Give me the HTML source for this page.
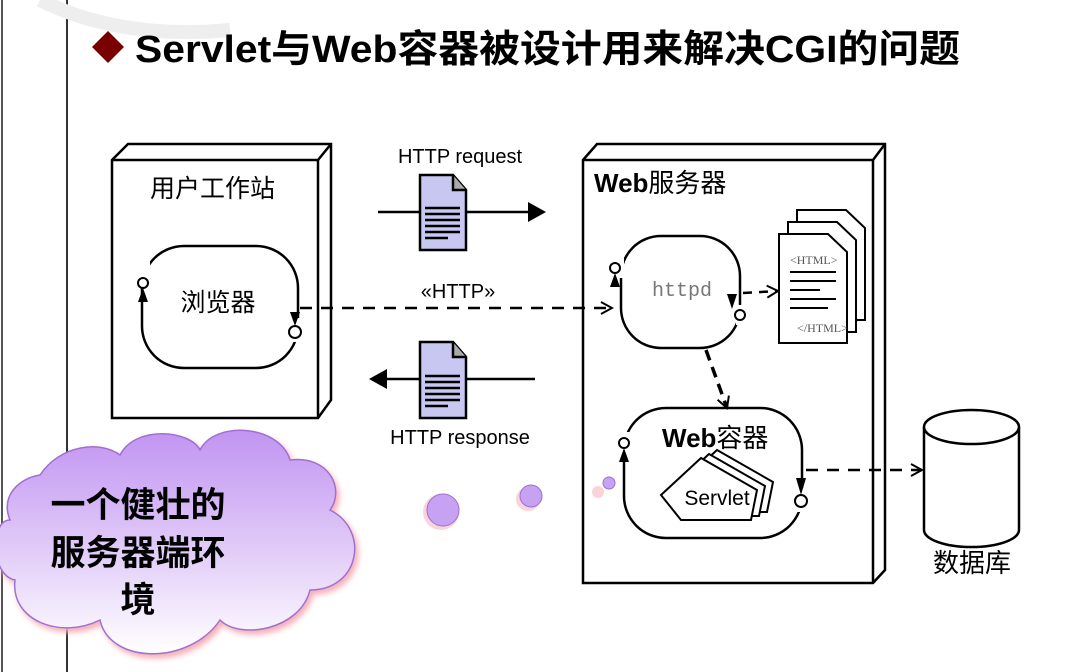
<!DOCTYPE html>
<html><head><meta charset="utf-8"><style>
html,body{margin:0;padding:0;background:#fff;}
svg{display:block}
</style></head><body>
<svg width="1088" height="672" viewBox="0 0 1088 672" xmlns="http://www.w3.org/2000/svg" font-family="Liberation Sans, Noto Sans CJK SC, sans-serif">
<defs>
<linearGradient id="cg" x1="0" y1="0" x2="0" y2="1">
<stop offset="0" stop-color="#c194f2"/><stop offset="0.55" stop-color="#e2cdf8"/><stop offset="1" stop-color="#ffffff"/>
</linearGradient>
<marker id="open" markerWidth="14" markerHeight="14" refX="12" refY="7" orient="auto" markerUnits="userSpaceOnUse"><path d="M1,1 L12,7 L1,13" fill="none" stroke="#000" stroke-width="2"/></marker>
</defs>
<rect width="1088" height="672" fill="#fff"/>
<line x1="2" y1="0" x2="2" y2="672" stroke="#555" stroke-width="2"/>
<line x1="67" y1="0" x2="67" y2="672" stroke="#333" stroke-width="2"/>
<path d="M40,0 Q120,40 230,30" fill="none" stroke="#eee" stroke-width="14"/>
<!-- title -->
<polygon points="108,31 124,47 108,63 92,47" fill="#7a0000"/>
<text x="135" y="62" font-size="38" font-weight="bold" fill="#000" textLength="825" lengthAdjust="spacingAndGlyphs">Servlet与Web容器被设计用来解决CGI的问题</text>

<!-- left node -->
<g fill="none" stroke="#000" stroke-width="2.5">
<polygon points="112,160 128,144 331,144 331,400 318,418 112,418" fill="#fff"/>
<polyline points="112,160 318,160 318,418"/>
<line x1="318" y1="160" x2="331" y2="144"/>
<rect x="142" y="246" width="156" height="122" rx="42"/>
</g>
<text x="150" y="197" font-size="25">用户工作站</text>
<text x="218" y="311" font-size="25" text-anchor="middle">浏览器</text>
<rect x="136" y="260" width="14" height="20" fill="#fff"/>
<rect x="291" y="318" width="10" height="24" fill="#fff"/>
<circle cx="143" cy="283" r="5" fill="#fff" stroke="#000" stroke-width="2"/>
<polygon points="143,288 138,302 148,302" fill="#000"/>
<circle cx="295" cy="332" r="6" fill="#fff" stroke="#000" stroke-width="2"/>
<polygon points="295,326 290,312 300,312" fill="#000"/>
<text x="458" y="298" font-size="20" text-anchor="middle">«HTTP»</text>

<!-- request -->
<text x="460" y="163" font-size="20" text-anchor="middle">HTTP request</text>
<line x1="378" y1="212" x2="530" y2="212" stroke="#000" stroke-width="2.5"/>
<polygon points="528,202 546,212 528,222" fill="#000"/>
<g stroke="#000" stroke-width="2.5">
<path d="M420,175 L453,175 L466,190 L466,250 L420,250 Z" fill="#c7c7f2"/>
<path d="M453,175 L453,190 L466,190" fill="#aaa"/>
</g>
<g stroke="#000" stroke-width="2.5"><line x1="425" y1="208" x2="460" y2="208"/><line x1="425" y1="214" x2="460" y2="214"/><line x1="425" y1="220" x2="460" y2="220"/><line x1="425" y1="226" x2="460" y2="226"/><line x1="425" y1="232" x2="460" y2="232"/><line x1="425" y1="238" x2="448" y2="238"/></g>

<!-- response -->
<line x1="385" y1="379" x2="535" y2="379" stroke="#000" stroke-width="2.5"/>
<polygon points="387,369 369,379 387,389" fill="#000"/>
<g stroke="#000" stroke-width="2.5">
<path d="M420,342 L453,342 L466,357 L466,418 L420,418 Z" fill="#c7c7f2"/>
<path d="M453,342 L453,357 L466,357" fill="#aaa"/>
</g>
<g stroke="#000" stroke-width="2.5"><line x1="425" y1="376" x2="460" y2="376"/><line x1="425" y1="382" x2="460" y2="382"/><line x1="425" y1="388" x2="460" y2="388"/><line x1="425" y1="394" x2="460" y2="394"/><line x1="425" y1="400" x2="460" y2="400"/><line x1="425" y1="406" x2="448" y2="406"/></g>
<text x="460" y="444" font-size="20" text-anchor="middle">HTTP response</text>

<!-- web server node -->
<g fill="none" stroke="#000" stroke-width="2.5">
<polygon points="583,160 597,144 885,144 885,570 873,583 583,583" fill="#fff"/>
<polyline points="583,160 873,160 873,583"/>
<line x1="873" y1="160" x2="885" y2="144"/>
<rect x="621" y="236" width="119" height="112" rx="40"/>
<rect x="624" y="408" width="178" height="130" rx="42"/>
</g>
<line x1="300" y1="308" x2="612" y2="308" stroke="#000" stroke-width="2.5" stroke-dasharray="12,9" marker-end="url(#open)"/>
<text x="594" y="192" font-size="26" font-weight="bold">Web<tspan font-weight="normal">服务器</tspan></text>
<text x="682" y="296" font-size="20" font-family="Liberation Mono, monospace" fill="#777" text-anchor="middle">httpd</text>
<rect x="612" y="256" width="12" height="22" fill="#fff"/>
<circle cx="615" cy="268" r="5" fill="#fff" stroke="#000" stroke-width="2"/>
<polygon points="615,273 610,287 620,287" fill="#000"/>
<rect x="736" y="305" width="10" height="20" fill="#fff"/>
<circle cx="740" cy="315" r="5" fill="#fff" stroke="#000" stroke-width="2"/>
<polygon points="732,309 727,294 737,294" fill="#000"/>
<!-- html docs -->
<g stroke="#000" stroke-width="2" fill="#fff">
<path d="M797,210 L846,210 L865,228 L865,320 L797,320 Z"/>
<path d="M788,222 L837,222 L856,240 L856,332 L788,332 Z"/>
<path d="M779,234 L828,234 L847,252 L847,343 L779,343 Z"/>
</g>
<line x1="743" y1="293" x2="778" y2="291" stroke="#000" stroke-width="2.5" stroke-dasharray="9,7" marker-end="url(#open)"/>
<text x="790" y="264" font-size="12" font-family="Liberation Serif, serif" fill="#555">&lt;HTML&gt;</text>
<g stroke="#000" stroke-width="2"><line x1="790" y1="272" x2="836" y2="272"/><line x1="790" y1="281" x2="836" y2="281"/><line x1="790" y1="290" x2="820" y2="290"/><line x1="790" y1="299" x2="836" y2="299"/><line x1="790" y1="308" x2="828" y2="308"/></g>
<text x="797" y="332" font-size="12" font-family="Liberation Serif, serif" fill="#555">&lt;/HTML&gt;</text>
<line x1="706" y1="350" x2="727" y2="408" stroke="#000" stroke-width="3.5" stroke-dasharray="11,7" marker-end="url(#open)"/>
<!-- web container -->
<text x="662" y="447" font-size="26" font-weight="bold">Web<tspan font-weight="normal">容器</tspan></text>
<rect x="620" y="432" width="10" height="22" fill="#fff"/>
<circle cx="624" cy="443" r="5" fill="#fff" stroke="#000" stroke-width="2"/>
<polygon points="624,448 619,462 629,462" fill="#000"/>
<rect x="797" y="488" width="10" height="24" fill="#fff"/>
<circle cx="801" cy="501" r="6" fill="#fff" stroke="#000" stroke-width="2"/>
<polygon points="801,495 796,478 806,478" fill="#000"/>
<g stroke="#000" stroke-width="2" fill="#fff">
<polygon points="677,487 717,450 773,482 767,512 697,512"/>
<polygon points="669,491 709,454 765,486 759,516 689,516"/>
<polygon points="661,495 701,458 757,490 751,520 681,520"/>
</g>
<text x="717" y="505" font-size="21" text-anchor="middle">Servlet</text>
<!-- database -->
<g stroke="#000" stroke-width="2.5" fill="#fff">
<path d="M924,427 L924,530 A47.5,17 0 0 0 1019,530 L1019,427"/>
<ellipse cx="971.5" cy="427" rx="47.5" ry="17"/>
</g>
<line x1="806" y1="470" x2="922" y2="470" stroke="#000" stroke-width="2.5" stroke-dasharray="12,9" marker-end="url(#open)"/>
<text x="972" y="572" font-size="26" text-anchor="middle">数据库</text>

<!-- cloud -->
<path d="M40,475 C60,445 100,440 120,455 C135,425 190,430 200,450 C215,420 280,425 290,460 C330,455 345,490 330,510 C370,530 360,590 310,590 C300,630 240,640 220,620 C190,665 110,665 100,620 C60,640 10,620 15,580 C-10,575 -10,520 10,520 C0,495 20,478 40,475 Z" fill="url(#cg)" stroke="#a070d0" stroke-width="1.5" style="filter:drop-shadow(3px 4px 3px #f4b0b8)"/>
<g font-size="35" font-weight="bold" text-anchor="middle" fill="#000">
<text x="138" y="517">一个健壮的</text>
<text x="138" y="565">服务器端环</text>
<text x="138" y="612">境</text>
</g>
<circle cx="441" cy="512" r="18" fill="#f6c2c8" opacity="0.7"/>
<circle cx="443" cy="510" r="16" fill="#c8a2f2" stroke="#9b70d0"/>
<circle cx="528" cy="499" r="12" fill="#f6c2c8" opacity="0.7"/>
<circle cx="531" cy="496" r="11" fill="#c8a2f2" stroke="#9b70d0"/>
<circle cx="598" cy="492" r="6" fill="#f6c2c8" opacity="0.7"/>
<circle cx="609" cy="483" r="6" fill="#c8a2f2" stroke="#9b70d0"/>
</svg>
</body></html>
